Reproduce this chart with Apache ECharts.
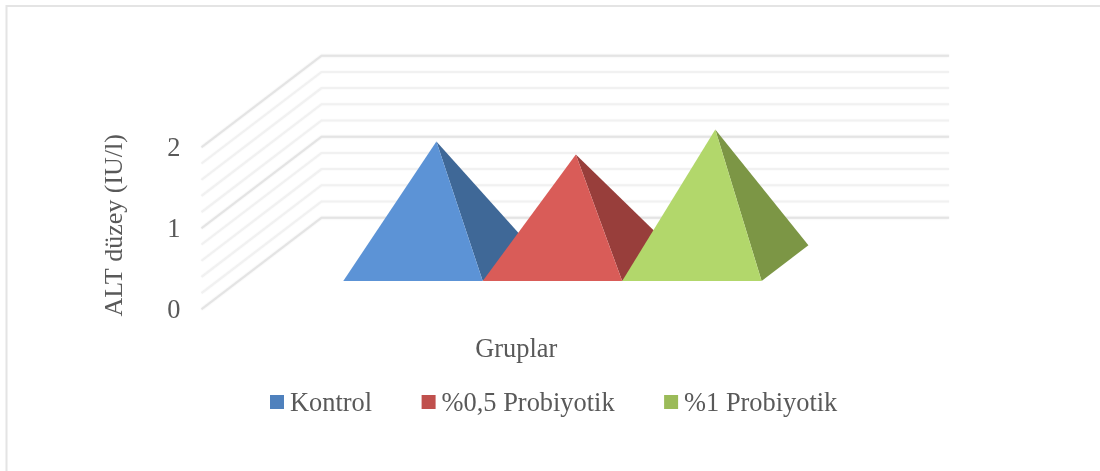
<!DOCTYPE html>
<html>
<head>
<meta charset="utf-8">
<style>html,body{margin:0;padding:0;background:#fff}#c{width:1100px;height:471px}</style>
<script src="https://cdn.jsdelivr.net/npm/echarts@6/dist/echarts.min.js"></script>
</head>
<body>
<div id="c"></div>
<script>
const categories = ['Gruplar'];
const seriesNames = ['Kontrol', '%0,5 Probiyotik', '%1 Probiyotik'];
const kontrol = [1.5];
const probiyotik05 = [1.34];
const probiyotik1 = [1.65];
const gridValues = [0, 0.2, 0.4, 0.6, 0.8, 1, 1.2, 1.4, 1.6, 1.8, 2];
const majorValues = [0, 1, 2];

const legendColors = ['#4f81bd', '#c0504d', '#9bbb59'];
const frontColors = ['#5c93d6', '#d95c58', '#b2d76b'];
const sideColors = ['#3f6897', '#983e3b', '#7c9645'];
const textColor = '#595959';
const fontFamily = '"Liberation Serif", "Times New Roman", serif';
const fontSize = 26.4;

// Oblique projection of the chart box: how far the back wall sits from the front plane
const wallDx = 120, wallDy = -91.6;
const gapRatio = 0.75;      // side gap in units of one pyramid width
const depthNear = 0.31, depthFar = 0.70; // where the pyramid base sits inside the box depth

const chart = echarts.init(document.getElementById('c'), null, {renderer: 'canvas'});

function renderGrid(params, api) {
  const v = api.value(0);
  const p = api.coord([0, v]);
  const cs = params.coordSys;
  const major = majorValues.indexOf(v) >= 0;
  return {
    type: 'polyline',
    silent: true,
    shape: {points: [
      [cs.x, p[1]],
      [cs.x + wallDx, p[1] + wallDy],
      [cs.x + cs.width + wallDx, p[1] + wallDy]
    ]},
    style: {
      fill: null,
      stroke: major ? '#e4e4e4' : '#f1f1f1',
      lineWidth: 2,
      shadowBlur: 2,
      shadowColor: major ? '#e8e8e8' : '#f4f4f4'
    }
  };
}

function makePyramid(idx) {
  return function (params, api) {
    const cat = api.value(0), val = api.value(1);
    const base = api.coord([cat, 0]);
    const band = api.size([1, 0])[0];
    const w = band / (seriesNames.length + 2 * gapRatio);
    const left = base[0] - band / 2 + w * (gapRatio + idx);
    const zeroY = base[1];
    const nearX = left + wallDx * depthNear, nearY = zeroY + wallDy * depthNear;
    const farX = left + wallDx * depthFar, farY = zeroY + wallDy * depthFar;
    const mid = (depthNear + depthFar) / 2;
    const topCenter = api.coord([cat, val]);
    const apex = [left + w / 2 + wallDx * mid, topCenter[1] + wallDy * mid];
    const fl = [nearX, nearY], fr = [nearX + w, nearY], br = [farX + w, farY];
    return {
      type: 'group',
      children: [
        {type: 'polygon', shape: {points: [apex, fr, br]}, style: {fill: sideColors[idx]}},
        {type: 'polygon', shape: {points: [apex, fl, fr]}, style: {fill: frontColors[idx]}}
      ]
    };
  };
}

const valueSets = [kontrol, probiyotik05, probiyotik1];

chart.setOption({
  animation: false,
  backgroundColor: '#fff',
  graphic: [
    {type: 'polyline', silent: true, shape: {points: [[6.5, 471], [6.5, 6], [1100, 6]]},
     style: {fill: null, stroke: '#e4e4e4', lineWidth: 2}}
  ],
  grid: {left: 201.5, top: 147.3, width: 627.5, height: 162, containLabel: false},
  legend: {
    data: seriesNames,
    left: 265, top: 386,
    itemWidth: 14, itemHeight: 14, itemGap: 49.5,
    selectedMode: false,
    icon: 'rect',
    formatter: '{t|{name}}',
    textStyle: {
      fontFamily, fontSize, color: textColor,
      rich: {t: {fontFamily, fontSize, color: textColor, padding: [4, 0, 0, 1]}}
    }
  },
  xAxis: {
    type: 'category',
    data: categories,
    name: 'Gruplar',
    nameLocation: 'middle',
    nameGap: 28,
    nameTextStyle: {fontFamily, fontSize, color: textColor, padding: [0, 0, 0, 2]},
    axisLine: {show: false}, axisTick: {show: false}, axisLabel: {show: false}, splitLine: {show: false}
  },
  yAxis: {
    type: 'value',
    min: 0, max: 2, interval: 1,
    name: 'ALT düzey (IU/l)',
    nameLocation: 'middle',
    nameRotate: 90,
    nameGap: 73,
    nameTextStyle: {fontFamily, fontSize: 26, color: textColor, padding: [0, 0, 0, 6]},
    axisLine: {show: false}, axisTick: {show: false}, splitLine: {show: false},
    axisLabel: {
      margin: 21,
      formatter: '{n|{value}}',
      rich: {n: {fontFamily, fontSize, color: textColor, padding: [3, 0, 0, 0]}}
    }
  },
  series: [
    {
      name: 'grid', type: 'custom', z: 1, silent: true,
      coordinateSystem: 'cartesian2d',
      clip: false,
      encode: {x: 1, y: 0},
      data: gridValues.map(v => [v, 0]),
      renderItem: renderGrid
    }
  ].concat(seriesNames.map((name, i) => ({
    name,
    type: 'custom',
    z: 2 + i,
    coordinateSystem: 'cartesian2d',
    clip: false,
    itemStyle: {color: legendColors[i]},
    encode: {x: 0, y: 1},
    data: valueSets[i].map((v, c) => [c, v]),
    renderItem: makePyramid(i)
  })))
});
</script>
</body>
</html>
